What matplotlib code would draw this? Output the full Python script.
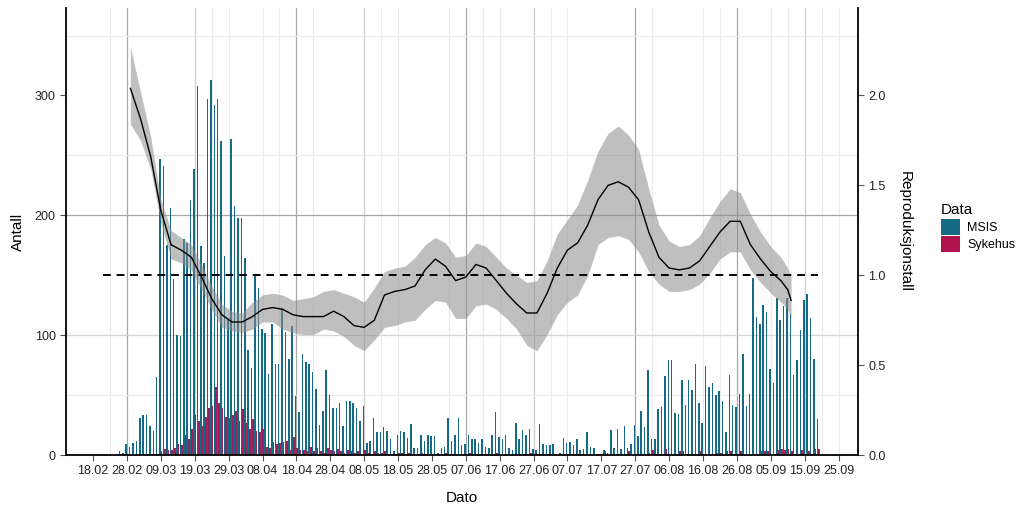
import matplotlib
matplotlib.use("Agg")
import matplotlib.pyplot as plt
import matplotlib.dates as mdates
from matplotlib.patches import Patch
import numpy as np
import pandas as pd

plt.rcParams["font.family"] = ["Liberation Sans", "DejaVu Sans"]

# Daily counts, first day 21.02.2020
START_DATE = "2020-02-21"
MSIS = [
    1, 0, 0, 0, 0,
    3, 2, 9, 7, 10, 12, 31, 33, 33, 24, 20, 65,
    247, 241, 175, 206, 147, 100, 99, 180, 177, 213, 239, 308, 174, 160, 297, 313,
    292, 297, 262, 166, 113, 264, 208,
    198, 198, 164, 88, 73, 150, 139, 105, 102, 68, 109, 76, 76, 123, 103, 80, 108, 49, 36,
    84, 78, 76, 69, 55, 25, 37, 71, 50, 39,
    39, 43, 24, 45, 45, 43, 39, 28, 41, 10,
    12, 31, 19, 19, 23, 20, 13, 3, 17, 20,
    19, 14, 26, 6, 6, 17, 12, 17, 16, 16,
    2, 6, 7, 31, 12, 17, 31, 8, 9, 17,
    13, 13, 10, 13, 7, 6, 17, 36, 15, 13,
    17, 6, 4, 27, 13, 21, 17, 22, 5, 4,
    26, 9, 8, 8, 9, 1, 2, 14, 10, 11,
    8, 13, 4, 5, 19, 7, 6, 1, 1, 4,
    2, 21, 6, 22, 5, 24, 6, 9, 25,
    16, 37, 23, 71, 13, 13, 38, 40, 66, 79, 79, 35, 34, 63, 42, 63, 54, 76, 43, 27,
    74, 57, 60, 50, 53, 45, 19, 67, 42, 40, 51, 84, 41, 51, 148, 115, 109, 125, 119, 72,
    60, 131, 113, 124, 131, 118, 67, 79, 104, 129, 134, 114, 80, 30,
]
SYKEHUS = [
    0, 0, 0, 0, 0,
    0, 0, 0, 0, 0, 0, 0, 0, 1, 0, 0, 1,
    3, 5, 4, 4, 6, 9, 8, 17, 13, 22, 33, 28, 24, 32, 39, 41, 57, 43, 39, 32, 31, 33, 37,
    28, 38, 27, 22, 30, 20, 19, 22, 7, 6, 11, 9, 10, 11, 12, 4, 15, 6, 4,
    4, 3, 7, 3, 6, 3, 2, 6, 4, 3,
    5, 3, 2, 4, 3, 2, 3, 1, 4, 2,
    1, 3, 2, 2, 3, 1, 1, 0, 2, 2,
    1, 2, 1, 0, 1, 2, 1, 1, 0, 0,
    1, 0, 2, 1, 1, 0, 1, 0, 0, 2,
    1, 0, 1, 0, 0, 1, 0, 2, 1, 0,
    1, 0, 0, 1, 0, 1, 0, 2, 0, 0,
    1, 0, 1, 0, 0, 0, 1, 0, 1, 0,
    0, 1, 0, 0, 1, 0, 0, 0, 0, 3,
    0, 1, 0, 1, 0, 0, 3, 0, 1,
    1, 0, 1, 2, 4, 1, 0, 1, 5, 1, 0, 1, 3, 3, 1, 0, 1, 0, 3, 1,
    0, 1, 0, 2, 2, 0, 3, 3, 1, 0, 3, 1, 0, 0, 1, 1, 3, 3, 3, 0,
    1, 4, 5, 4, 5, 3, 1, 0, 4, 1, 3, 1, 5, 5,
]

# Reproduction number estimate with uncertainty band
R_DATES = [
    "2020-02-29", "2020-03-03", "2020-03-06", "2020-03-09", "2020-03-12", "2020-03-15",
    "2020-03-18", "2020-03-21", "2020-03-24", "2020-03-27", "2020-03-30", "2020-04-02",
    "2020-04-05", "2020-04-08", "2020-04-11", "2020-04-14", "2020-04-17", "2020-04-20",
    "2020-04-23", "2020-04-26", "2020-04-29", "2020-05-02", "2020-05-05", "2020-05-08",
    "2020-05-11", "2020-05-14", "2020-05-17", "2020-05-20", "2020-05-23", "2020-05-26",
    "2020-05-29", "2020-06-01", "2020-06-04", "2020-06-07", "2020-06-10", "2020-06-13",
    "2020-06-16", "2020-06-19", "2020-06-22", "2020-06-25", "2020-06-28", "2020-07-01",
    "2020-07-04", "2020-07-07", "2020-07-10", "2020-07-13", "2020-07-16", "2020-07-19",
    "2020-07-22", "2020-07-25", "2020-07-28", "2020-07-31", "2020-08-03", "2020-08-06",
    "2020-08-09", "2020-08-12", "2020-08-15", "2020-08-18", "2020-08-21", "2020-08-24",
    "2020-08-27", "2020-08-30", "2020-09-02", "2020-09-05", "2020-09-08", "2020-09-10",
    "2020-09-11",
]
R_MID = [
    2.04, 1.87, 1.66, 1.36, 1.17, 1.14, 1.10, 0.99, 0.87, 0.78, 0.74, 0.74,
    0.77, 0.81, 0.82, 0.81, 0.78, 0.77, 0.77, 0.77, 0.80, 0.77, 0.72, 0.71,
    0.75, 0.89, 0.91, 0.92, 0.94, 1.03, 1.09, 1.05, 0.97, 0.99, 1.06, 1.04,
    0.97, 0.90, 0.84, 0.79, 0.79, 0.90, 1.04, 1.14, 1.18, 1.28, 1.42, 1.50,
    1.52, 1.49, 1.42, 1.24, 1.10, 1.04, 1.03, 1.04, 1.08, 1.16, 1.24, 1.30,
    1.30, 1.17, 1.09, 1.02, 0.97, 0.92, 0.86,
]
R_LO = [
    1.84, 1.75, 1.59, 1.29, 1.09, 1.07, 1.03, 0.92, 0.81, 0.71, 0.69, 0.68,
    0.70, 0.74, 0.74, 0.70, 0.68, 0.67, 0.67, 0.70, 0.69, 0.66, 0.61, 0.58,
    0.64, 0.71, 0.72, 0.74, 0.75, 0.81, 0.86, 0.85, 0.76, 0.76, 0.83, 0.84,
    0.81, 0.76, 0.70, 0.61, 0.58, 0.67, 0.78, 0.85, 0.89, 1.00, 1.17, 1.21,
    1.22, 1.20, 1.13, 1.02, 0.95, 0.91, 0.91, 0.92, 0.95, 1.01, 1.09, 1.13,
    1.13, 1.03, 0.96, 0.90, 0.85, 0.81, 0.76,
]
R_HI = [
    2.27, 2.02, 1.77, 1.42, 1.25, 1.21, 1.17, 1.06, 0.94, 0.84, 0.80, 0.79,
    0.85, 0.89, 0.90, 0.89, 0.86, 0.87, 0.88, 0.91, 0.92, 0.90, 0.88, 0.85,
    0.93, 1.02, 1.04, 1.05, 1.10, 1.17, 1.21, 1.18, 1.10, 1.11, 1.18, 1.16,
    1.10, 1.04, 1.00, 0.96, 0.97, 1.08, 1.23, 1.31, 1.39, 1.53, 1.69, 1.79,
    1.83, 1.78, 1.70, 1.48, 1.28, 1.19, 1.16, 1.17, 1.22, 1.32, 1.41, 1.48,
    1.46, 1.34, 1.24, 1.16, 1.10, 1.04, 0.99,
]
R_REF = 1.0

LEFT_TICKS = [0, 100, 200, 300]
RIGHT_TICKS = [0.0, 0.5, 1.0, 1.5, 2.0]
COUNT_MAX = 373
R_PER_COUNT = 150.0

MSIS_COLOR = "#176a86"
SYK_COLOR = "#b0134c"
SYK_BAR_COLOR = "#9c2159"

# gridline dates (style only)
GRID_DARK = ["2020-02-28", "2020-04-18", "2020-06-07", "2020-07-27", "2020-08-26"]
GRID_MID = ["2020-03-19", "2020-05-08", "2020-06-27", "2020-09-15"]
GRID_LIGHT = ["2020-02-23", "2020-03-24", "2020-03-29", "2020-04-08", "2020-04-13",
              "2020-04-23", "2020-05-13", "2020-05-18", "2020-06-02", "2020-06-12",
              "2020-06-17", "2020-07-02", "2020-07-07", "2020-08-01", "2020-08-16",
              "2020-08-21", "2020-09-05", "2020-09-10", "2020-09-20", "2020-09-25"]


def main():
    days = pd.date_range(START_DATE, periods=len(MSIS), freq="D")
    x = mdates.date2num(days)

    fig = plt.figure(figsize=(10.24, 5.12), dpi=100)
    ax = fig.add_axes([66 / 1024, 57 / 512, 792 / 1024, 447 / 512])

    for d in GRID_LIGHT:
        ax.axvline(pd.Timestamp(d), color="#ebebeb", lw=0.8, zorder=0)
    for d in GRID_MID:
        ax.axvline(pd.Timestamp(d), color="#cfcfcf", lw=0.9, zorder=0)
    for d in GRID_DARK:
        ax.axvline(pd.Timestamp(d), color="#a8a8a8", lw=0.9, zorder=0)
    for v, c in [(50, "#ebebeb"), (250, "#ebebeb"), (350, "#ebebeb"),
                 (100, "#d5d5d5"), (200, "#a8a8a8")]:
        ax.axhline(v, color=c, lw=0.9, zorder=0)

    ax.bar(x - 0.225, MSIS, width=0.45, color=MSIS_COLOR, zorder=2, linewidth=0)
    ax.bar(x + 0.225, SYKEHUS, width=0.5, color=SYK_BAR_COLOR, zorder=2, linewidth=0)

    ax.set_xlim(mdates.date2num(pd.Timestamp("2020-02-10")),
                mdates.date2num(pd.Timestamp("2020-09-30 18:00")))
    ax.set_ylim(0, COUNT_MAX)
    ax.set_yticks(LEFT_TICKS)
    ticks = pd.date_range("2020-02-18", "2020-09-25", freq="10D")
    ax.set_xticks(mdates.date2num(ticks))
    ax.xaxis.set_major_formatter(mdates.DateFormatter("%d.%m"))

    ax2 = ax.twinx()
    ax2.set_ylim(0, COUNT_MAX / R_PER_COUNT)
    ax2.set_yticks(RIGHT_TICKS)
    ax2.set_yticklabels([f"{t:.1f}" for t in RIGHT_TICKS])
    rd = mdates.date2num(pd.to_datetime(R_DATES))
    ax2.fill_between(rd, R_LO, R_HI, color="#8c8c8c", alpha=0.55, lw=0, zorder=3)
    ax2.plot(rd, R_MID, color="black", lw=1.0, zorder=4)
    ax2.hlines(R_REF, x[0], x[-1], colors="black", linestyles=(0, (4, 3)), lw=1.4, zorder=5)

    for a in (ax, ax2):
        a.spines["top"].set_visible(False)
        for s in ("left", "right", "bottom"):
            a.spines[s].set_color("black")
            a.spines[s].set_linewidth(1.3)
        a.tick_params(length=4, width=0.8, color="#555555", labelsize=9, labelcolor="#222222")
    ax.spines["right"].set_visible(False)
    ax2.spines["left"].set_visible(False)
    ax2.spines["bottom"].set_visible(False)

    ax.set_ylabel("Antall", fontsize=11, labelpad=7)
    ax.set_xlabel("Dato", fontsize=11, labelpad=10)
    ax2.set_ylabel("Reproduksjonstall", fontsize=11, rotation=-90, labelpad=19)

    handles = [Patch(facecolor=SYK_COLOR if i else MSIS_COLOR) for i in range(2)]
    fig.legend(handles, ["MSIS", "Sykehus"], title="Data", loc="upper left",
               bbox_to_anchor=(930 / 1024, 1 - 192 / 512), frameon=False,
               handlelength=1.5, handleheight=1.6, handletextpad=0.6,
               labelspacing=0.1, fontsize=9, title_fontsize=11, alignment="left")

    fig.savefig("out.png", dpi=100)
    plt.close(fig)


if __name__ == "__main__":
    main()
